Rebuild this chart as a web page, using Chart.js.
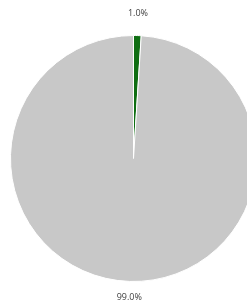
<!DOCTYPE html>
<html>
<head>
<meta charset="utf-8">
<script src="https://cdn.jsdelivr.net/npm/chart.js@4/dist/chart.umd.min.js"></script>
<style>
  html, body { margin: 0; padding: 0; background: #fff; overflow: hidden; }
  #wrap { position: relative; width: 267px; height: 306px; }
</style>
</head>
<body>
<div id="wrap"><canvas id="pie"></canvas></div>
<script>
const categories = ['Yes', 'No'];
const values = [1.0, 99.0];
const sliceColors = ['#0f6e12', '#c8c8c8'];

// outside-end percentage labels
const pctLabels = {
  id: 'pctLabels',
  afterDatasetsDraw(chart) {
    const ctx = chart.ctx;
    const total = values.reduce((a, b) => a + b, 0);
    const arcs = chart.getDatasetMeta(0).data;
    ctx.save();
    ctx.font = '9px "Open Sans", sans-serif';
    ctx.fillStyle = '#404040';
    ctx.textAlign = 'center';
    arcs.forEach((arc, i) => {
      const mid = (arc.startAngle + arc.endAngle) / 2;
      const above = Math.sin(mid) < 0;
      const r = arc.outerRadius + (above ? 18 : 12);
      const x = arc.x + Math.cos(mid) * r;
      const y = arc.y + Math.sin(mid) * r;
      ctx.textBaseline = above ? 'bottom' : 'top';
      ctx.fillText((values[i] / total * 100).toFixed(1) + '%', x, y);
    });
    ctx.restore();
  }
};

new Chart(document.getElementById('pie'), {
  type: 'pie',
  data: {
    labels: categories,
    datasets: [{
      data: values,
      backgroundColor: sliceColors,
      borderColor: '#ffffff',
      borderWidth: 1
    }]
  },
  options: {
    responsive: true,
    maintainAspectRatio: false,
    animation: false,
    layout: { padding: { left: 10, top: 35, right: 10, bottom: 24 } },
    plugins: {
      legend: { display: false },
      tooltip: { enabled: false }
    }
  },
  plugins: [pctLabels]
});
</script>
</body>
</html>
